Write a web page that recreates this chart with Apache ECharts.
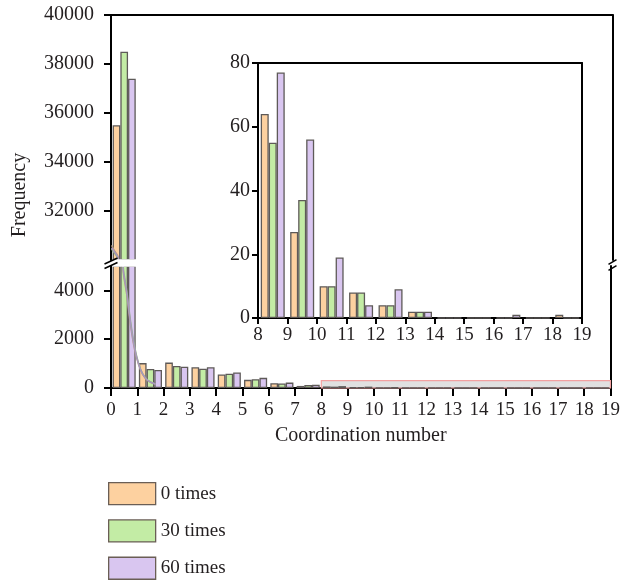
<!DOCTYPE html>
<html><head><meta charset="utf-8">
<script src="https://cdn.jsdelivr.net/npm/echarts@6/dist/echarts.min.js"></script>
<style>html,body{margin:0;padding:0;background:#fff}#c{width:623px;height:581px}</style>
</head><body><div id="c"></div>
<script>
// ---- data ----
const bins = [0,1,2,3,4,5,6,7,8,9,10,11,12,13,14,15,16,17,18];
const times0  = [35500,1020,1040,850,555,335,195,85,64,27,10,8,4,2,0,0,0,0,1];
const times30 = [38500,780,900,790,585,360,183,125,55,37,10,8,4,2,0,0,0,0,0];
const times60 = [37400,740,875,850,640,417,222,134,77,56,19,4,9,2,0,0,1,0,0];
const seriesNames = ['0 times','30 times','60 times'];

// fitted decay curves
const fitX    = [0.02, 0.15, 0.28, 0.45, 0.6, 0.75, 0.9, 1.05, 1.2, 1.4, 1.7];
const fit0    = [30600, 30350, 30100, 5000, 3800, 2500, 1550, 950, 560, 300, 150];
const fit30   = [30450, 30250, 30000, 5200, 4000, 2700, 1700, 1020, 600, 320, 160];
const fit60   = [30500, 30300, 30050, 5100, 3900, 2600, 1620, 980, 580, 310, 155];

// ticks
const xTicks = [0,1,2,3,4,5,6,7,8,9,10,11,12,13,14,15,16,17,18,19];
const yUpperTicks = [32000,34000,36000,38000,40000];
const yLowerTicks = [0,2000,4000];
const insetXTicks = [8,9,10,11,12,13,14,15,16,17,18,19];
const insetYTicks = [0,20,40,60,80];
const upperRange = [30000, 40000];
const lowerRange = [0, 5000];
const insetBinStart = 8;
const zoomBox = [8, 19, 0, 300]; // x0,x1,y0,y1 highlight region

// ---- style ----
const FONT = 'Liberation Serif';
const TXT = '#231f20';
const colors = ['#fdd1a0', '#c3eca5', '#d9c6f0'];
const edge = '#5e5a58';
const fitColors = ['#b59c84', '#92b585', '#a996bf'];

const chart = echarts.init(document.getElementById('c'), null, {renderer:'canvas'});

const axisLineStyle = {show:true, onZero:false, lineStyle:{color:'#000', width:2}};
const fmt = v => String(v);
const lbl = (extra) => Object.assign({color:TXT, fontFamily:FONT, fontSize:19, formatter:fmt}, extra||{});

const xAxis = [
  {gridIndex:0, type:'value', min:0, max:19, show:false},
  {gridIndex:0, type:'value', min:0, max:19, position:'top', axisLine:axisLineStyle,
   axisTick:{show:false}, axisLabel:{show:false}, splitLine:{show:false}},
  {gridIndex:1, type:'value', min:0, max:19, interval:1, position:'bottom', axisLine:axisLineStyle,
   axisTick:{show:true, length:8, lineStyle:{width:2, color:'#000'}},
   axisLabel:lbl({margin:13, customValues:xTicks}), splitLine:{show:false},
   name:'Coordination number', nameLocation:'middle', nameGap:38,
   nameTextStyle:{color:TXT, fontFamily:FONT, fontSize:20}},
  {gridIndex:2, type:'value', min:8, max:19, interval:1, position:'bottom', axisLine:axisLineStyle,
   axisTick:{show:true, length:6, lineStyle:{width:2, color:'#000'}},
   axisLabel:lbl({margin:8, customValues:insetXTicks}), splitLine:{show:false}},
  {gridIndex:2, type:'value', min:8, max:19, position:'top', axisLine:axisLineStyle,
   axisTick:{show:false}, axisLabel:{show:false}, splitLine:{show:false}}
];
const yAxis = [
  {gridIndex:0, type:'value', min:upperRange[0], max:upperRange[1], position:'left', axisLine:axisLineStyle,
   axisTick:{show:true, length:7, lineStyle:{width:2,color:'#000'}, customValues:yUpperTicks},
   axisLabel:lbl({margin:17, fontSize:20, customValues:yUpperTicks}), splitLine:{show:false}},
  {gridIndex:0, type:'value', min:upperRange[0], max:upperRange[1], position:'right', axisLine:axisLineStyle,
   axisTick:{show:false}, axisLabel:{show:false}, splitLine:{show:false}},
  {gridIndex:1, type:'value', min:lowerRange[0], max:lowerRange[1], position:'left', axisLine:axisLineStyle,
   axisTick:{show:true, length:7, lineStyle:{width:2,color:'#000'}, customValues:yLowerTicks},
   axisLabel:lbl({margin:17, fontSize:20, customValues:yLowerTicks}), splitLine:{show:false}},
  {gridIndex:1, type:'value', min:lowerRange[0], max:lowerRange[1], position:'right', axisLine:axisLineStyle,
   axisTick:{show:false}, axisLabel:{show:false}, splitLine:{show:false}},
  {gridIndex:2, type:'value', min:0, max:80, interval:20, position:'left', axisLine:axisLineStyle,
   axisTick:{show:true, length:6, lineStyle:{width:2,color:'#000'}, customValues:insetYTicks},
   axisLabel:lbl({margin:8, fontSize:20, customValues:insetYTicks}), splitLine:{show:false}},
  {gridIndex:2, type:'value', min:0, max:80, position:'right', axisLine:axisLineStyle,
   axisTick:{show:false}, axisLabel:{show:false}, splitLine:{show:false}}
];

const groups = [times0, times30, times60];
const fits = [fit0, fit30, fit60];
const series = [];
groups.forEach((vals, k) => {
  const itemStyle = {color:colors[k], borderColor:edge, borderWidth:1.3};
  const mainData = bins.map((b,i)=>[b+0.5, vals[i]]);
  series.push({type:'bar', name:seriesNames[k], xAxisIndex:0, yAxisIndex:0, data:mainData,
    barWidth:7.7, barGap:'0%', itemStyle, clip:true, z:2});
  series.push({type:'bar', name:seriesNames[k], xAxisIndex:2, yAxisIndex:2, data:mainData,
    barWidth:7.7, barGap:'0%', itemStyle, clip:true, z:2});
  const insetData = bins.map((b,i)=>[b+0.5, vals[i]]).filter(d=>d[0]>insetBinStart);
  series.push({type:'bar', name:seriesNames[k], xAxisIndex:3, yAxisIndex:4, data:insetData,
    barWidth:8, barGap:'0%', itemStyle, clip:true, z:2});
});
fits.forEach((f,k) => {
  const d = fitX.map((x,i)=>[x, f[i]]);
  [[0,0],[2,2]].forEach(([xi, yi]) => {
    series.push({type:'line', name:'fit'+k, xAxisIndex:xi, yAxisIndex:yi, data:d, smooth:0.35,
      showSymbol:false, clip:true, lineStyle:{color:fitColors[k], width:1.4}, z:3});
  });
});
series.push({type:'line', name:'zoombox', xAxisIndex:2, yAxisIndex:2, data:[], z:5,
  markArea:{silent:true, itemStyle:{color:'rgba(214,214,214,0.75)', borderColor:'#f2a0a0', borderWidth:1.2},
    data:[[{coord:[zoomBox[0], zoomBox[2]]},{coord:[zoomBox[1], zoomBox[3]]}]]}});

const gx0 = 111, gx1 = 612.5, gapMid = 263;
const sl = (cx, cy, dx, dy) => ({type:'line', shape:{x1:cx-dx, y1:cy+dy, x2:cx+dx, y2:cy-dy},
  style:{stroke:'#000', lineWidth:1.5}, z:100});

const option = {
  animation:false,
  backgroundColor:'#fff',
  grid:[
    {left:111, top:15, width:501.5, height:245},
    {left:111, top:266, width:501.5, height:122},
    {left:258, top:63, width:324, height:255, show:true, backgroundColor:'#fff', borderWidth:0}
  ],
  xAxis, yAxis, series,
  legend:{data:seriesNames, orient:'vertical', left:108, top:482, padding:0, height:110, itemWidth:47, itemHeight:22, itemGap:14,
    icon:'rect', itemStyle:{borderColor:'#6a5e55', borderWidth:1.3},
    textStyle:{color:TXT, fontFamily:FONT, fontSize:19}},
  graphic:[
    {type:'text', x:20, y:195, rotation:Math.PI/2,
     style:{text:'Frequency', fill:TXT, font:'20px "Liberation Serif"', align:'center', verticalAlign:'middle'}},
    // break band
    {type:'rect', shape:{x:112.2, y:259.2, width:60, height:7.6}, style:{fill:'#fff'}, z:50},
    sl(gx0, gapMid-2, 6.5, 3), sl(gx0, gapMid+2.5, 6.5, 3),
    sl(gx1, gapMid-1, 4, 2.3), sl(gx1, gapMid+5, 4, 2.3)
  ]
};
chart.setOption(option);
</script></body></html>
